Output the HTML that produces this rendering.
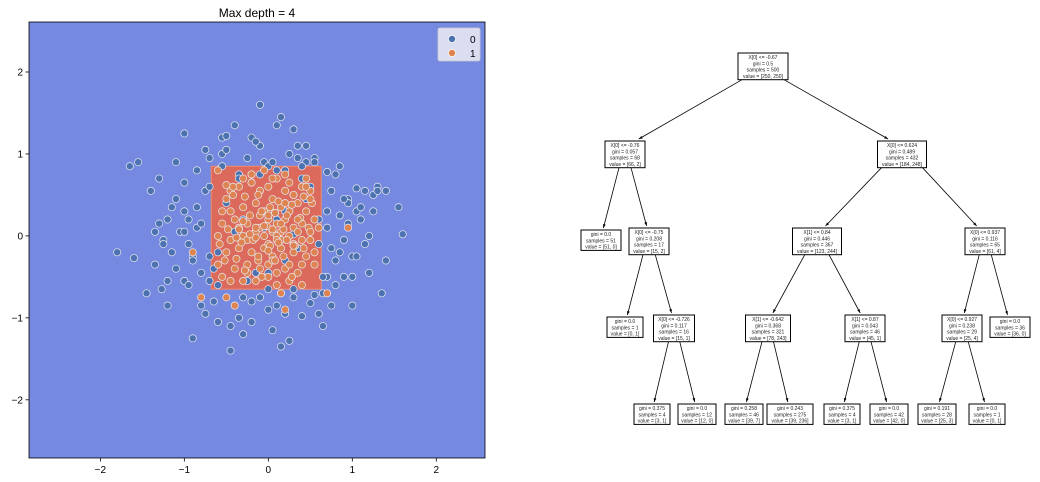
<!DOCTYPE html>
<html><head><meta charset="utf-8"><style>
body{margin:0;background:#fff;font-family:"Liberation Sans",sans-serif;}
svg{display:block}
</style></head><body>
<svg width="1040" height="482" xmlns="http://www.w3.org/2000/svg">
<g id="left"></g>
<g id="tree"></g>
</svg>
<script>
const xDomain=[-2.85,2.58], yDomain=[-2.71,2.61];
const xTicks=[-2,-1,0,1,2], yTicks=[-2,-1,0,1,2];
const region=[-0.68,0.63,-0.65,0.85];
const blueX=[-1.6,-1.27,-1.0,-0.9,-0.45,-0.3,0.15,0.25,0.6,0.75,1.0,1.35,1.4,1.55,1.6,1.25,1.3,1.15,0.95,0.95,1.0,0.85,0.7,0.45,0.35,0.1,-0.1,-0.2,-0.4,-0.55,-0.7,-0.85,-1.0,-1.1,-1.2,-1.25,-1.35,-1.45,-1.2,-1.1,-0.95,-0.8,-0.75,-0.65,-0.4,-0.2,0.05,0.2,0.4,0.55,0.7,0.9,1.05,1.2,-1.05,-0.95,-1.15,-1.3,-1.4,-1.0,-0.85,-0.9,-0.8,-0.7,-0.6,-0.45,-0.3,-0.1,0.0,0.3,0.5,0.65,0.8,0.95,1.1,0.35,-0.05,0.1,0.25,-0.55,-0.25,0.0,0.15,0.55,0.8,-0.75,-0.5,-0.15,0.3,0.45,-0.35,0.05,0.2,0.4,-0.2,-0.1,0.75,0.85,-0.75,-0.55,-1.25,-1.55,-1.8,-1.65,-1.0,0.7,0.4,-0.6,-0.35,0.85,1.05,-0.95,-0.4,0.1,0.5,0.2,-0.25,0.0,0.45,0.3,-0.15,-0.65,0.6,0.65,-0.5,-1.1,1.3,1.05,0.9,1.4,
-1.3,-1.15,-0.85,-0.7,-0.6,-0.9,-1.2,0.75,0.9,1.1,1.2,0.7,0.8,0.65,-0.2,0.1,0.3,-0.35,-0.1,0.55,-0.8,-1.0,1.0,1.15,0.6,-0.5,-0.3,0.2,0.0,-0.05,0.35,-1.35,1.25,0.85,-0.7,0.15];
const blueY=[-0.27,-0.65,-0.55,-1.25,-1.4,-1.2,-1.35,-1.28,-0.95,-0.85,-0.85,-0.7,-0.3,0.35,0.02,0.5,0.6,0.55,0.45,0.15,-0.25,-0.2,0.1,0.9,1.1,1.35,1.1,1.2,1.35,1.0,0.95,0.8,0.65,0.45,0.2,-0.05,-0.35,-0.7,-0.55,-0.4,-0.6,-0.85,-0.95,-0.8,-0.85,-1.05,-1.15,-0.95,-0.98,-0.72,-0.5,-0.5,-0.25,0.0,0.05,-0.1,0.35,0.7,0.55,0.3,0.1,-0.25,-0.45,-0.55,-1.05,-1.1,-0.75,-0.75,-0.9,-0.75,-0.82,-0.7,-0.3,0.4,0.2,0.95,0.9,0.8,1.0,1.2,0.95,0.85,1.45,0.95,0.75,1.05,1.05,1.15,1.3,1.1,0.75,0.9,0.8,0.85,0.75,1.6,0.55,0.85,0.55,0.85,-0.1,0.9,-0.2,0.85,1.25,0.78,0.7,-0.6,0.7,0.25,0.3,0.2,0.05,0.2,0.6,-0.3,-0.55,-0.65,0.45,0.02,-0.45,-0.4,-0.1,-0.5,1.22,0.9,0.55,0.58,0.45,0.55,
0.15,-0.2,0.35,0.6,-0.2,-0.3,-0.85,-0.15,-0.05,0.35,-0.45,0.3,-0.6,-1.1,-0.8,-0.85,-0.65,-1.0,0.75,0.9,0.15,0.05,-0.5,-0.1,0.2,0.4,0.2,0.3,-0.45,0.1,-0.15,0.05,0.3,0.25,-0.25,-0.7];
const orangeX=[-0.35,-0.2,-0.1,0.0,0.1,0.2,0.3,0.4,0.5,-0.5,-0.45,-0.3,-0.15,0.05,0.15,0.25,0.35,0.45,-0.55,-0.4,-0.25,-0.1,0.0,0.1,0.2,0.3,0.4,0.55,-0.6,-0.45,-0.3,-0.15,-0.05,0.05,0.15,0.25,0.35,0.5,-0.5,-0.35,-0.2,-0.05,0.05,0.15,0.3,0.45,-0.4,-0.25,-0.1,0.0,0.1,0.2,0.35,-0.3,-0.15,0.0,0.1,0.25,0.4,-0.2,-0.05,0.05,0.2,-0.1,0.0,0.15,0.3,-0.45,-0.3,0.45,0.55,-0.55,-0.6,0.6,0.7,0.95,-0.9,-0.8,-0.4,0.15,0.2,-0.05,0.1,0.0,0.05,-0.15,0.1,0.2,-0.25,-0.35,0.3,0.4,-0.5,
-0.55,-0.42,-0.28,-0.12,0.02,0.12,0.28,0.42,0.52,-0.58,-0.35,-0.22,-0.08,0.08,0.22,0.38,0.48,-0.48,-0.32,-0.18,-0.02,0.18,0.32,0.5,-0.52,-0.38,-0.12,0.02,0.25,0.42,-0.25,-0.08,0.08,0.28,-0.6,-0.45,0.55,0.45,-0.15,0.05,0.12,-0.22,0.35,-0.38,0.22,0.0,-0.05,0.15,-0.3,0.3,-0.42,0.5,-0.2,0.08,0.25,-0.12,0.4,-0.5,0.18,-0.28];
const orangeY=[0.6,0.65,0.55,0.6,0.7,0.55,0.5,0.6,0.55,0.45,0.3,0.35,0.4,0.45,0.35,0.3,0.4,0.3,0.15,0.2,0.15,0.25,0.2,0.15,0.2,0.1,0.15,0.2,0.0,-0.05,0.0,0.05,0.0,0.05,-0.05,0.0,0.05,-0.05,-0.2,-0.15,-0.2,-0.15,-0.25,-0.15,-0.2,-0.25,-0.4,-0.35,-0.4,-0.35,-0.45,-0.4,-0.45,-0.55,-0.55,-0.5,-0.6,-0.55,-0.6,0.75,0.8,0.7,0.75,0.1,-0.1,0.05,-0.1,0.55,0.7,0.7,-0.35,-0.5,0.8,0.1,-0.7,0.1,-0.2,-0.75,-0.85,-0.7,-0.9,0.3,0.0,0.25,-0.3,0.1,-0.05,0.4,-0.05,0.1,0.5,-0.35,-0.75,
0.3,0.5,0.48,0.5,0.35,0.42,0.38,0.48,0.4,-0.1,0.08,0.25,0.3,0.28,0.25,0.22,0.1,0.08,-0.08,-0.05,0.12,0.08,-0.12,0.05,-0.3,-0.28,-0.3,-0.12,-0.35,-0.15,-0.45,-0.5,-0.3,-0.5,-0.35,-0.55,-0.2,0.6,-0.02,0.08,-0.08,0.02,0.2,-0.02,-0.05,-0.18,0.12,0.15,0.18,-0.12,0.6,0.45,0.65,0.28,0.65,-0.25,-0.05,0.62,-0.25,-0.42];
const NS="http://www.w3.org/2000/svg";
function mk(p,t,a){const e=document.createElementNS(NS,t);for(const k in a)e.setAttribute(k,a[k]);p.appendChild(e);return e;}
const L=29,R=485,T=22,B=458;
const sx=v=>L+(v-xDomain[0])/(xDomain[1]-xDomain[0])*(R-L);
const sy=v=>B-(v-yDomain[0])/(yDomain[1]-yDomain[0])*(B-T);
const g=document.getElementById('left');
let e=mk(g,'rect',{x:L,y:T,width:R-L,height:B-T,fill:'#7489df'});


e=mk(g,'rect',{x:sx(region[0]),y:sy(region[3]),width:sx(region[1])-sx(region[0]),height:sy(region[2])-sy(region[3]),fill:'#dc6a5c',stroke:'#f08a70','stroke-width':1});


function pts(xs,ys,c,n){for(let i=0;i<xs.length;i++){const p=mk(g,'circle',{cx:sx(xs[i]),cy:sy(ys[i]),r:3.6,fill:c,stroke:'#e8e8f0','stroke-width':0.7});

}}
pts(blueX,blueY,'#4c72b0','point-class-0');
pts(orangeX,orangeY,'#dd8452','point-class-1');
e=mk(g,'rect',{x:L,y:T,width:R-L,height:B-T,fill:'none',stroke:'#000','stroke-width':0.8});


xTicks.forEach(t=>{mk(g,'line',{x1:sx(t),x2:sx(t),y1:B,y2:B+3.5,stroke:'#000','stroke-width':0.8});
const tx=mk(g,'text',{x:sx(t),y:B+15,'text-anchor':'middle','font-size':10});tx.textContent=t<0?'−'+(-t):t;

});
yTicks.forEach(t=>{mk(g,'line',{x1:L-3.5,x2:L,y1:sy(t),y2:sy(t),stroke:'#000','stroke-width':0.8});
const tx=mk(g,'text',{x:L-6,y:sy(t)+3.5,'text-anchor':'end','font-size':10});tx.textContent=t<0?'−'+(-t):t;

});
e=mk(g,'text',{x:257,y:17,'text-anchor':'middle','font-size':12});e.textContent='Max depth = 4';


const lg=mk(g,'g',{});


mk(lg,'rect',{x:438,y:28,width:42,height:33,rx:2,fill:'#e6e8f2','fill-opacity':0.9,stroke:'#ccc','stroke-width':0.8});
[['0','#4c72b0',39],['1','#dd8452',53]].forEach(([l,c,y])=>{mk(lg,'circle',{cx:452,cy:y,r:3.6,fill:c,stroke:'#fff','stroke-width':0.7});
const t=mk(lg,'text',{x:470,y:y+4,'font-size':10});t.textContent=l;

});
const tg=document.getElementById('tree');
const nodes=[
{id:0,cx:763,y:53,w:50,lines:['X[0] <= -0.67','gini = 0.5','samples = 500','value = [250, 250]']},
{id:1,p:0,cx:625,y:141,w:40,lines:['X[0] <= -0.76','gini = 0.057','samples = 68','value = [66, 2]']},
{id:2,p:0,cx:902,y:141,w:49,lines:['X[0] <= 0.624','gini = 0.489','samples = 432','value = [184, 248]']},
{id:3,p:1,cx:601,y:230,w:40,lines:['gini = 0.0','samples = 51','value = [51, 0]']},
{id:4,p:1,cx:649,y:228,w:40,lines:['X[0] <= -0.75','gini = 0.208','samples = 17','value = [15, 2]']},
{id:5,p:2,cx:817,y:228,w:49,lines:['X[1] <= 0.84','gini = 0.446','samples = 367','value = [123, 244]']},
{id:6,p:2,cx:985,y:228,w:40,lines:['X[0] <= 0.937','gini = 0.116','samples = 65','value = [61, 4]']},
{id:7,p:4,cx:625,y:317,w:36,lines:['gini = 0.0','samples = 1','value = [0, 1]']},
{id:8,p:4,cx:674,y:315,w:41,lines:['X[0] <= -0.726','gini = 0.117','samples = 16','value = [15, 1]']},
{id:9,p:5,cx:768,y:315,w:45,lines:['X[1] <= -0.642','gini = 0.368','samples = 321','value = [78, 243]']},
{id:10,p:5,cx:865,y:315,w:40,lines:['X[1] <= 0.87','gini = 0.043','samples = 46','value = [45, 1]']},
{id:11,p:6,cx:962,y:315,w:40,lines:['X[0] <= 0.927','gini = 0.238','samples = 29','value = [25, 4]']},
{id:12,p:6,cx:1010,y:317,w:40,lines:['gini = 0.0','samples = 36','value = [36, 0]']},
{id:13,p:8,cx:652,y:404,w:36,lines:['gini = 0.375','samples = 4','value = [3, 1]']},
{id:14,p:8,cx:697,y:404,w:38,lines:['gini = 0.0','samples = 12','value = [12, 0]']},
{id:15,p:9,cx:744,y:404,w:38,lines:['gini = 0.258','samples = 46','value = [39, 7]']},
{id:16,p:9,cx:790,y:404,w:46,lines:['gini = 0.243','samples = 275','value = [39, 236]']},
{id:17,p:10,cx:842,y:404,w:36,lines:['gini = 0.375','samples = 4','value = [3, 1]']},
{id:18,p:10,cx:889,y:404,w:38,lines:['gini = 0.0','samples = 42','value = [42, 0]']},
{id:19,p:11,cx:937,y:404,w:38,lines:['gini = 0.191','samples = 28','value = [25, 3]']},
{id:20,p:11,cx:987,y:404,w:36,lines:['gini = 0.0','samples = 1','value = [0, 1]']}];
nodes.forEach(n=>n.h=n.lines.length*6.3+1.5);
nodes.forEach(n=>{if(n.p===undefined)return;const p=nodes[n.p];
const x1=p.cx+(n.cx<p.cx?-1:1)*Math.min(p.w/2-4,Math.abs(n.cx-p.cx)*0.25),y1=p.y+p.h,x2=n.cx+(n.cx<p.cx?1:-1)*Math.min(n.w/2-6,Math.abs(n.cx-p.cx)*0.1),y2=n.y-2;
const ln=mk(tg,'line',{x1,y1,x2,y2,stroke:'#000','stroke-width':0.8});


const a=Math.atan2(y2-y1,x2-x1),s=4;
mk(tg,'path',{d:`M${x2},${y2} L${x2-s*Math.cos(a-0.35)},${y2-s*Math.sin(a-0.35)} L${x2-s*Math.cos(a+0.35)},${y2-s*Math.sin(a+0.35)}Z`,fill:'#000'});});
nodes.forEach(n=>{const ng=mk(tg,'g',{});


mk(ng,'rect',{x:n.cx-n.w/2,y:n.y,width:n.w,height:n.h,fill:'#fff',stroke:'#000','stroke-width':1});
n.lines.forEach((l,i)=>{const t=mk(ng,'text',{x:n.cx,y:n.y+6+i*6.3,'text-anchor':'middle','font-size':5,fill:'#222'});t.textContent=l;});});
</script>
</body></html>
